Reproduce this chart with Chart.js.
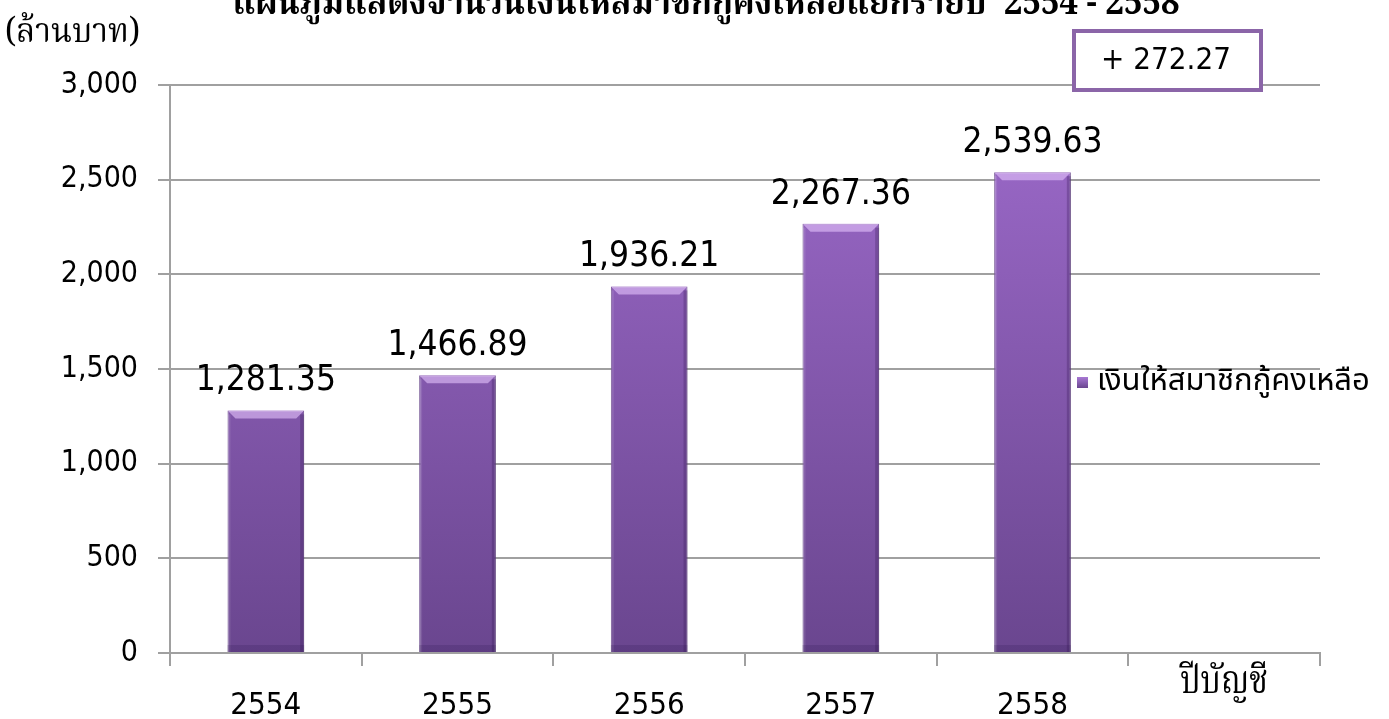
<!DOCTYPE html>
<html lang="th">
<head>
<meta charset="UTF-8">
<title>แผนภูมิแสดงจำนวนเงินให้สมาชิกกู้คงเหลือ</title>
<script src="https://cdn.jsdelivr.net/npm/chart.js"></script>
<style>
  html, body { margin: 0; padding: 0; background: #fff; }
  #wrap { position: relative; width: 1389px; height: 719px; }
</style>
</head>
<body>
<div id="wrap"><canvas id="loanChart" width="1389" height="719"></canvas></div>
<script>
// data
const years = ['2554', '2555', '2556', '2557', '2558', ''];
const loanBalance = [1281.35, 1466.89, 1936.21, 2267.36, 2539.63, null];
const seriesName = 'เงินให้สมาชิกกู้คงเหลือ';
const chartTitle = 'แผนภูมิแสดงจำนวนเงินให้สมาชิกกู้คงเหลือแยกรายปี  2554 - 2558';
const unitLabel = '(ล้านบาท)';
const axisLabel = 'ปีบัญชี';
const changeLabel = '+ 272.27';

const numFont = '"DejaVu Sans Condensed", "DejaVu Sans", sans-serif';
const thaiFont = '"Noto Sans Thai", Loma, Tahoma, "DejaVu Sans Condensed", sans-serif';
const thaiSerif = '"Noto Serif Thai", "Noto Sans Thai", serif';
const gridGray = '#a0a0a0';

function barFill(chart) {
    const area = chart.chartArea;
    if (!area) return '#8a5cb0';
    const g = chart.ctx.createLinearGradient(0, area.top, 0, area.bottom);
    g.addColorStop(0, '#9e6bcc');
    g.addColorStop(1, '#6a468f');
    return g;
}

// extra texts, bevels and the value labels
const extras = {
    id: 'extras',
    afterDatasetsDraw(chart) {
        const ctx = chart.ctx;
        const meta = chart.getDatasetMeta(0);
        ctx.save();
        meta.data.forEach((bar, i) => {
            if (loanBalance[i] == null) return;
            const p = bar.getProps(['x', 'y', 'width', 'base'], true);
            const l = p.x - p.width / 2, r = p.x + p.width / 2;
            // top bevel
            ctx.fillStyle = 'rgba(228,195,252,0.6)';
            ctx.beginPath();
            ctx.moveTo(l, p.y); ctx.lineTo(r, p.y);
            ctx.lineTo(r - 8, p.y + 8); ctx.lineTo(l + 8, p.y + 8);
            ctx.closePath(); ctx.fill();
            // side shading
            ctx.fillStyle = 'rgba(50,20,80,0.28)';
            ctx.fillRect(r - 4, p.y + 4, 4, p.base - p.y - 4);
            ctx.fillStyle = 'rgba(255,255,255,0.10)';
            ctx.fillRect(l, p.y + 4, 3, p.base - p.y - 4);
            ctx.fillStyle = 'rgba(40,15,70,0.18)';
            ctx.fillRect(l, p.base - 7, p.width, 7);
            // value label
            ctx.fillStyle = '#000';
            ctx.font = '35px ' + numFont;
            ctx.textAlign = 'center';
            ctx.textBaseline = 'alphabetic';
            ctx.fillText(loanBalance[i].toLocaleString('en-US', { minimumFractionDigits: 2 }), p.x, p.y - 20);
        });

        // title (top is cropped off in the original)
        ctx.fillStyle = '#000';
        ctx.textAlign = 'center';
        ctx.font = 'bold 36px ' + thaiSerif;
        ctx.fillText(chartTitle, 706, 14, 947);

        // unit label
        ctx.font = '34px ' + thaiSerif;
        ctx.textAlign = 'left';
        ctx.fillText(unitLabel, 5, 42, 135);

        // axis name at the empty category
        ctx.font = '40px ' + thaiSerif;
        ctx.textAlign = 'center';
        ctx.fillText(axisLabel, 1224, 693, 88);

        // change box
        ctx.fillStyle = '#fff';
        ctx.fillRect(1074, 31, 187, 59);
        ctx.strokeStyle = '#8b65a8';
        ctx.lineWidth = 4;
        ctx.strokeRect(1074, 31, 187, 59);
        ctx.fillStyle = '#000';
        ctx.font = '31px ' + numFont;
        ctx.textBaseline = 'middle';
        ctx.fillText(changeLabel, 1166, 61);

        // legend
        const lg = ctx.createLinearGradient(0, 377, 0, 388);
        lg.addColorStop(0, '#a878d4');
        lg.addColorStop(1, '#6a468f');
        ctx.fillStyle = lg;
        ctx.fillRect(1077, 377, 11, 11);
        ctx.fillStyle = '#000';
        ctx.font = '31px ' + thaiFont;
        ctx.textAlign = 'left';
        ctx.fillText(chart.data.datasets[0].label, 1097, 384, 275);
        ctx.restore();
    }
};

const chart = new Chart(document.getElementById('loanChart').getContext('2d'), {
    type: 'bar',
    data: {
        labels: years,
        datasets: [{
            label: seriesName,
            data: loanBalance,
            backgroundColor: c => barFill(c.chart),
            borderColor: '#6b4a8c',
            borderWidth: 1,
            categoryPercentage: 1,
            barPercentage: 0.4
        }]
    },
    options: {
        responsive: false,
        animation: false,
        layout: { padding: { top: 85, right: 69, left: 0, bottom: 0 } },
        plugins: { legend: { display: false }, tooltip: { enabled: false } },
        scales: {
            x: {
                grid: { drawOnChartArea: false, tickLength: 13, color: gridGray, lineWidth: 2, offset: true },
                border: { color: gridGray, width: 2 },
                ticks: { color: '#000', font: { family: numFont, size: 31 }, padding: 21 },
                afterFit(s) { s.height = 66; }
            },
            y: {
                min: 0,
                max: 3000,
                ticks: {
                    stepSize: 500,
                    color: '#000',
                    font: { family: numFont, size: 30 },
                    padding: 20,
                    callback: v => v.toLocaleString('en-US')
                },
                grid: { color: gridGray, lineWidth: 2, tickLength: 12 },
                border: { color: gridGray, width: 2 },
                afterFit(s) { s.width = 170; }
            }
        }
    },
    plugins: [extras]
});
</script>
</body>
</html>
